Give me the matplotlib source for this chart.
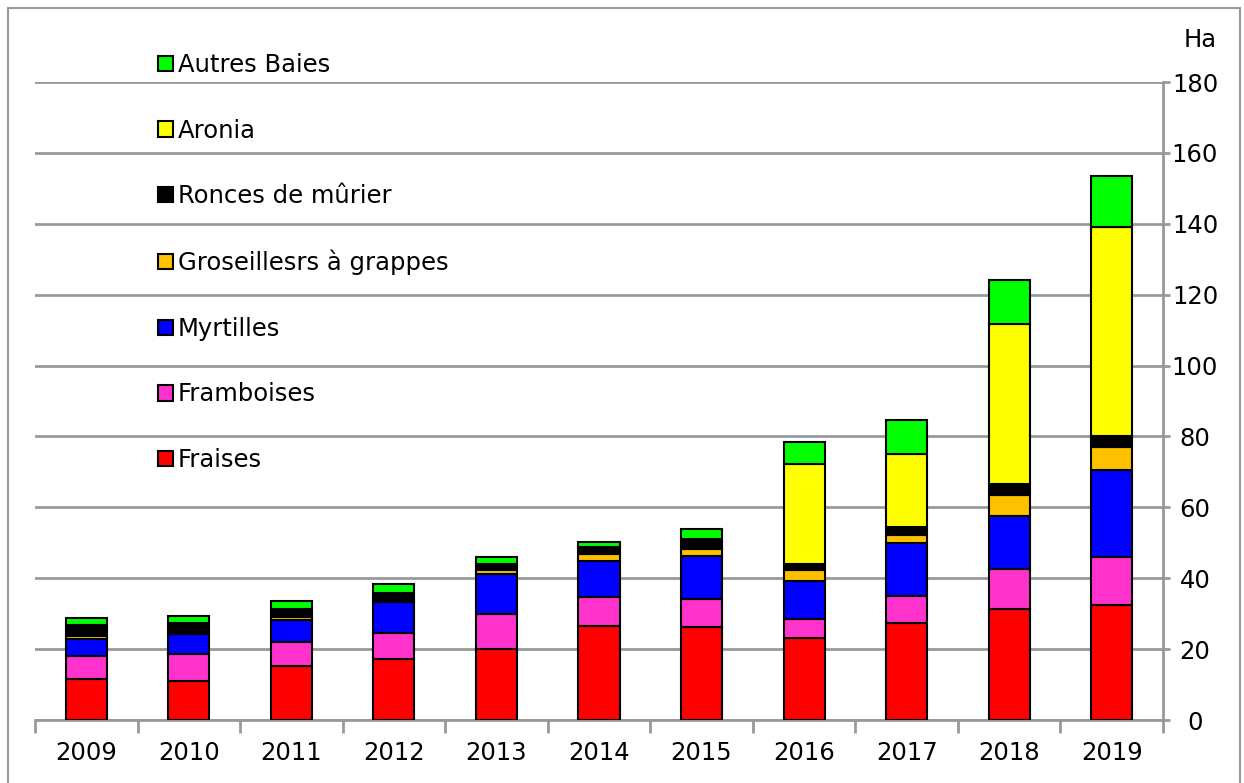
import matplotlib
matplotlib.use("Agg")
import matplotlib.pyplot as plt
from matplotlib.patches import Rectangle
import numpy as np

years = ["2009", "2010", "2011", "2012", "2013", "2014", "2015", "2016", "2017", "2018", "2019"]
fraises = [11.6, 11.1, 15.2, 17.1, 20.1, 26.4, 26.3, 23.0, 27.4, 31.4, 32.5]
framboises = [6.4, 7.4, 6.9, 7.5, 9.7, 8.3, 7.8, 5.5, 7.6, 11.3, 13.6]
myrtilles = [4.9, 5.7, 6.1, 8.6, 11.3, 10.1, 12.2, 10.7, 14.8, 14.8, 24.5]
groseilles = [0.9, 0.7, 0.8, 0.7, 1.1, 2.0, 2.0, 3.1, 2.3, 6.0, 6.3]
ronces = [3.0, 2.5, 2.3, 2.0, 1.9, 2.0, 2.7, 1.8, 2.3, 3.0, 3.2]
aronia = [0, 0, 0, 0, 0, 0, 0, 28.2, 20.7, 45.1, 59.1]
autres = [2.0, 2.0, 2.2, 2.6, 1.9, 1.5, 2.9, 6.1, 9.6, 12.5, 14.3]

series = [
    ("Fraises", fraises, "#FF0000"),
    ("Framboises", framboises, "#FF33CC"),
    ("Myrtilles", myrtilles, "#0000FF"),
    ("Groseillesrs à grappes", groseilles, "#FFC000"),
    ("Ronces de mûrier", ronces, "#000000"),
    ("Aronia", aronia, "#FFFF00"),
    ("Autres Baies", autres, "#00FF00"),
]

plt.rcParams["font.family"] = "DejaVu Sans"
fs = 17.5
fig = plt.figure(figsize=(12.44, 7.83), dpi=100)
ax = fig.add_axes([35 / 1244, 1 - 720 / 783, (1163 - 35) / 1244, (720 - 82) / 783])

# outer frame
fig.patches.append(Rectangle((8 / 1244, -0.05), 1232 / 1244, 1.05 - 8 / 783,
                             transform=fig.transFigure, fill=False,
                             edgecolor="#999999", lw=1.5))

x = np.arange(len(years))
bottom = np.zeros(len(years))
handles = []
for name, vals, col in series:
    b = ax.bar(x, vals, 0.4, bottom=bottom, color=col, edgecolor="black",
               linewidth=1.5, label=name, zorder=3)
    handles.append(b)
    bottom += np.array(vals)

ax.set_xlim(-0.5, len(years) - 0.5)
ax.set_ylim(0, 180)
ax.set_yticks(range(0, 181, 20))
ax.yaxis.tick_right()
ax.grid(axis="y", color="#999999", lw=2, zorder=0)
ax.set_axisbelow(True)

ax.set_xticks(x)
ax.set_xticklabels(years)
ax.set_xticks(np.arange(-0.5, len(years)), minor=True)
ax.tick_params(axis="x", which="major", length=0, labelsize=fs, pad=15)
ax.tick_params(axis="x", which="minor", length=9, width=2, color="#999999", direction="out")
ax.tick_params(axis="y", length=5, width=2, color="#999999", labelsize=fs, pad=18)
for lab in ax.get_yticklabels():
    lab.set_horizontalalignment("center")

for s in ["top", "left"]:
    ax.spines[s].set_visible(False)
for s in ["bottom", "right"]:
    ax.spines[s].set_color("#999999")
    ax.spines[s].set_linewidth(2)

fig.text(1200 / 1244, 1 - 40 / 783, "Ha", fontsize=fs, ha="center", va="center")

leg = ax.legend(handles[::-1], [s[0] for s in series][::-1], frameon=False,
                loc="upper left", bbox_to_anchor=(146 / 1244, 1 - 41 / 783),
                bbox_transform=fig.transFigure, fontsize=fs,
                handlelength=0.6, handleheight=0.6, handletextpad=0.2,
                labelspacing=1.71, borderpad=0)

fig.savefig("out.png", dpi=100)
